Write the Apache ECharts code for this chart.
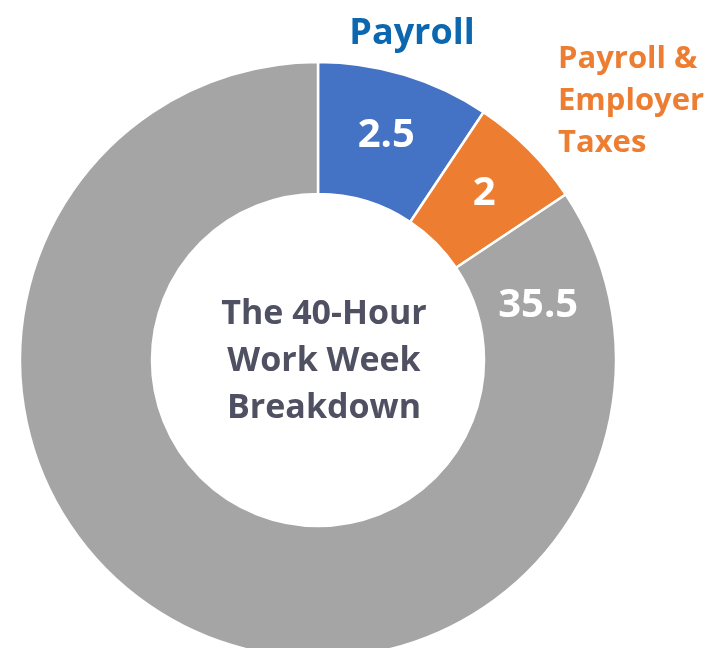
<!DOCTYPE html>
<html>
<head>
<meta charset="utf-8">
<script src="https://cdn.jsdelivr.net/npm/echarts@6/dist/echarts.min.js"></script>
<style>
html,body{margin:0;padding:0;background:#fff;}
#chart{width:711px;height:648px;}
</style>
</head>
<body>
<div id="chart"></div>
<script>
// Categories and printed labels
var categories = ['Payroll', 'Payroll & Employer Taxes', 'Other'];
var labelText = ['2.5', '2', '35.5'];
// Slice sizes as drawn in the reference (hours-equivalent)
var sliceHours = [3.75, 2.5, 33.75];
var colors = ['#4472C4', '#ED7D31', '#A5A5A5'];
var centerTitle = 'The 40-Hour\nWork Week\nBreakdown';

var FONT = '"Open Sans", "Liberation Sans", sans-serif';
var cx = 318, cy = 360;

var data = categories.map(function (c, i) {
  return {
    name: c,
    value: sliceHours[i],
    itemStyle: { color: colors[i] },
    label: { formatter: labelText[i] }
  };
});
// label of the large slice sits in its upper-right part as in the reference
data[2].label.offset = [331, -262];

var chart = echarts.init(document.getElementById('chart'), null, { renderer: 'canvas' });
chart.setOption({
  animation: false,
  backgroundColor: '#ffffff',
  series: [{
    type: 'pie',
    center: [cx, cy],
    radius: [166, 298],
    startAngle: 90,
    clockwise: true,
    silent: true,
    itemStyle: { borderColor: '#ffffff', borderWidth: 2.5 },
    label: {
      show: true,
      position: 'inside',
      color: '#ffffff',
      fontFamily: FONT,
      fontWeight: 'bold',
      fontSize: 40
    },
    labelLine: { show: false },
    data: data
  }],
  graphic: [
    {
      type: 'text',
      z: 100,
      style: {
        text: centerTitle,
        x: cx + 6, y: cy + 1,
        textAlign: 'center',
        textVerticalAlign: 'middle',
        fill: '#4f5162',
        font: 'bold 34px ' + FONT,
        lineHeight: 47
      }
    },
    {
      type: 'text',
      z: 100,
      style: {
        text: categories[0],
        x: 412, y: 34,
        textAlign: 'center',
        textVerticalAlign: 'middle',
        fill: '#0b67b0',
        font: 'bold 36px ' + FONT
      }
    },
    {
      type: 'text',
      z: 100,
      style: {
        text: 'Payroll &\nEmployer\nTaxes',
        x: 558, y: 101,
        textAlign: 'left',
        textVerticalAlign: 'middle',
        fill: '#ED7D31',
        font: 'bold 31px ' + FONT,
        lineHeight: 42
      }
    }
  ]
});
</script>
</body>
</html>
